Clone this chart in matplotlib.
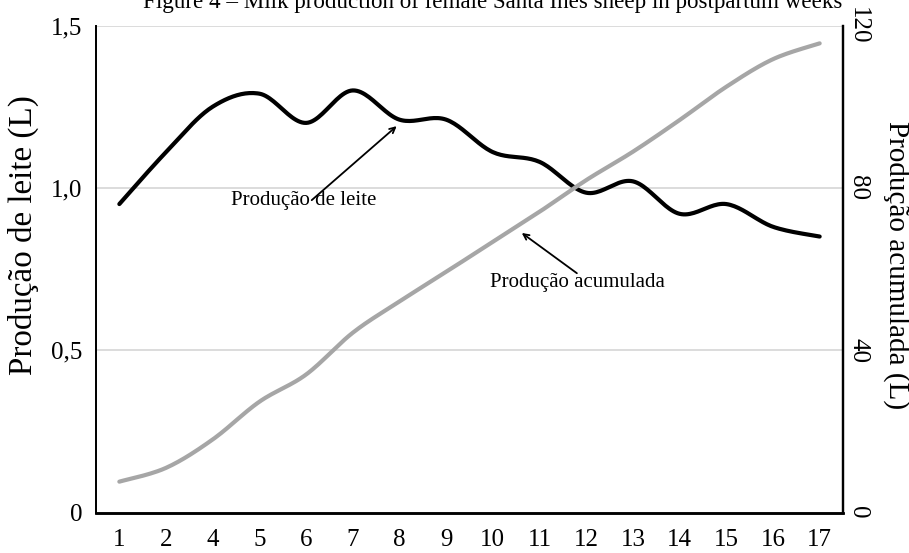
import numpy as np
import matplotlib
matplotlib.use("Agg")
import matplotlib.pyplot as plt

weeks = ["1", "2", "4", "5", "6", "7", "8", "9", "10", "11", "12", "13", "14", "15", "16", "17"]
milk = [0.95, 1.11, 1.25, 1.29, 1.20, 1.30, 1.21, 1.21, 1.11, 1.08, 0.985, 1.02, 0.92, 0.95, 0.88, 0.85]
cumulative = [7.6, 11.0, 18.0, 27.3, 34.0, 44.3, 52.0, 59.3, 66.7, 74.1, 81.9, 88.9, 96.7, 104.9, 111.7, 115.6]

left_ticks = [0, 0.5, 1.0, 1.5]
left_ticklabels = ["0", "0,5", "1,0", "1,5"]
right_ticks = [0, 40, 80, 120]
right_ticklabels = ["0", "40", "80", "120"]

title = "Figure 4 \u2013 Milk production of female Santa In\u00eas sheep in postpartum weeks"


def smooth(xs, ys, n=24):
    p = np.column_stack([xs, ys]).astype(float)
    p_ext = np.vstack([p[0], p, p[-1]])
    out = []
    t = np.linspace(0, 1, n)
    for i in range(len(p) - 1):
        p0, p1, p2, p3 = p_ext[i], p_ext[i + 1], p_ext[i + 2], p_ext[i + 3]
        b1 = p1 + (p2 - p0) / 6.0
        b2 = p2 - (p3 - p1) / 6.0
        seg = ((1 - t) ** 3)[:, None] * p1 + (3 * (1 - t) ** 2 * t)[:, None] * b1 \
            + (3 * (1 - t) * t ** 2)[:, None] * b2 + (t ** 3)[:, None] * p2
        out.append(seg if i == 0 else seg[1:])
    s = np.vstack(out)
    return s[:, 0], s[:, 1]


plt.rcParams['font.family'] = ['Liberation Serif', 'DejaVu Serif']

W, H = 909, 553
fig = plt.figure(figsize=(W / 100, H / 100), dpi=100)
L, R, T, B = 96, 843, 25.5, 512.5
ax = fig.add_axes([L / W, (H - B) / H, (R - L) / W, (B - T) / H])
ax2 = ax.twinx()

x = np.arange(len(weeks))

ax.set_xlim(-0.5, len(weeks) - 0.5)
ax.set_ylim(0, 1.5)
ax2.set_ylim(0, 120)

ax.set_yticks(left_ticks)
ax.set_yticklabels(left_ticklabels)
ax2.set_yticks(right_ticks)
ax2.set_yticklabels(right_ticklabels, rotation=-90, va='center')
ax.set_xticks(x)
ax.set_xticklabels(weeks)

fs = 18
ax.tick_params(axis='both', length=0, labelsize=fs)
ax.tick_params(axis='y', pad=10)
ax.tick_params(axis='x', pad=12)
ax2.tick_params(axis='y', length=0, labelsize=fs, pad=3)

for y in left_ticks[1:]:
    ax.axhline(y, color='#d9d9d9', lw=1.3, zorder=0)

for a in (ax, ax2):
    a.spines['top'].set_visible(False)
    a.spines['left'].set_color('black')
    a.spines['right'].set_color('black')
    a.spines['bottom'].set_color('black')
    a.spines['left'].set_linewidth(1.3)
    a.spines['right'].set_linewidth(1.6)
    a.spines['bottom'].set_linewidth(1.8)

sx, sy = smooth(x, milk)
ax.plot(sx, sy, color='black', lw=3.0, solid_capstyle='round', zorder=3)
gx, gy = smooth(x, cumulative)
ax2.plot(gx, gy, color='#a6a6a6', lw=3.0, solid_capstyle='round', zorder=3)

fig.text(23 / W, 1 - 235 / H, "Produ\u00e7\u00e3o de leite (L)", fontsize=23.8, rotation=90,
         ha='center', va='center')
fig.text(896 / W, 1 - 265 / H, "Produ\u00e7\u00e3o acumulada (L)", fontsize=21, rotation=-90,
         ha='center', va='center')

# annotations (left axis coordinates)
ax2.text(3.955, 0.962, "Produ\u00e7\u00e3o de leite", fontsize=15, ha='center', va='center',
         transform=ax.transData, zorder=5)
ax2.annotate('', xy=(5.94, 1.19), xytext=(4.12, 0.962), xycoords=ax.transData, textcoords=ax.transData,
             arrowprops=dict(arrowstyle='->', color='black', lw=1.3, shrinkA=0, shrinkB=0), zorder=5)
ax2.text(9.82, 0.707, "Produ\u00e7\u00e3o acumulada", fontsize=15, ha='center', va='center',
         transform=ax.transData, zorder=5)
ax2.annotate('', xy=(8.62, 0.861), xytext=(9.80, 0.737), xycoords=ax.transData, textcoords=ax.transData,
             arrowprops=dict(arrowstyle='->', color='black', lw=1.3, shrinkA=0, shrinkB=0), zorder=5)

fig.text(493 / W, 1 - 8 / H, title, fontsize=16.6, ha='center', va='baseline')

fig.savefig("out.png", dpi=100)
